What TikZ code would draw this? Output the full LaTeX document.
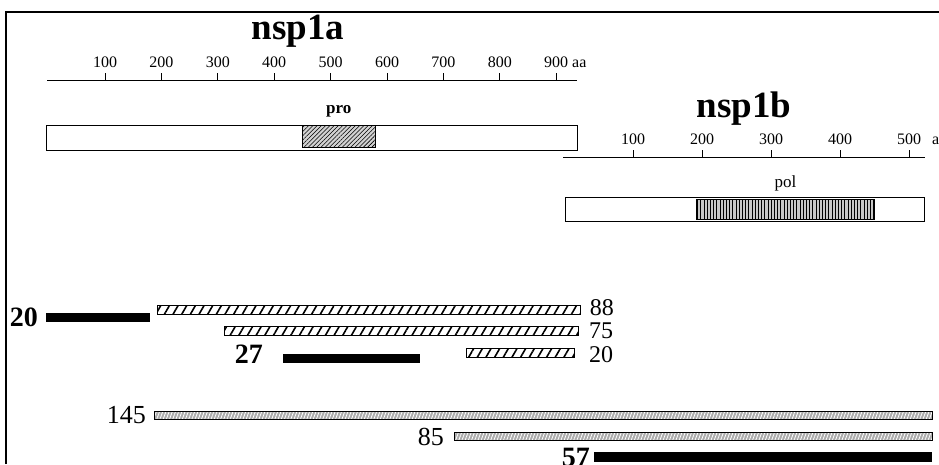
\documentclass[tikz,border=0pt]{standalone}
\usepackage{fontspec}
\setmainfont{Liberation Serif}
\usetikzlibrary{positioning,patterns.meta}

\begin{document}
\begin{tikzpicture}[x=1pt,y=-1pt,
    title/.style={font=\fontsize{37}{37}\selectfont\bfseries,inner sep=0pt},
    scalelab/.style={font=\fontsize{16}{16}\selectfont,inner sep=0pt,anchor=base},
    domlab/.style={font=\fontsize{17}{17}\selectfont,inner sep=0pt},
    numlab/.style={font=\fontsize{24}{24}\selectfont,inner sep=0pt},
    boldlab/.style={font=\fontsize{28}{28}\selectfont\bfseries,inner sep=0pt},
    orf/.style={draw,line width=1pt,fill=white,anchor=west,minimum height=25pt,inner sep=0pt},
    prodom/.style={draw,line width=0.8pt,anchor=west,minimum height=22pt,inner sep=0pt,
      preaction={fill=gray!35},pattern={Lines[angle=45,distance=3pt,line width=0.6pt]}},
    poldom/.style={draw,line width=0.8pt,anchor=west,minimum height=20pt,inner sep=0pt,
      preaction={fill=gray!45},pattern={Lines[angle=90,distance=3.2pt,line width=0.8pt]}},
    solid bar/.style={fill=black,anchor=west,minimum height=9pt,inner sep=0pt},
    hatchbar/.style={draw,line width=0.8pt,anchor=west,minimum height=9pt,inner sep=0pt,
      pattern={Lines[angle=60,distance=7.5pt,line width=1.6pt]}},
    wavebar/.style={draw,line width=0.9pt,anchor=west,minimum height=8pt,inner sep=0pt,
      preaction={fill=gray!65},pattern={Lines[angle=70,distance=3pt,line width=0.8pt]},
      pattern color=white}]
\useasboundingbox (0,0) rectangle (939,464);
\clip (0,0) rectangle (939,464);
% frame
\draw[line width=1.4pt] (6,464) -- (6,12) -- (939,12);

% nsp1a
\node[title] (nspa) at (298,31) {nsp1a};
\draw[line width=0.9pt] (47,80) -- (577,80);
\foreach \i in {1,...,9}
  \draw[line width=0.9pt] (48.6+56.4*\i,73) -- (48.6+56.4*\i,81)
    node[scalelab,at={(48.6+56.4*\i,67)}] {\i00};
\node[scalelab,anchor=base west] (aa) at (572,67) {aa};
\node[orf,minimum width=531pt] (orfa) at (46,137.5) {};
\node[prodom,minimum width=73pt] (pro) at (302,136) {};
\node[domlab,font=\fontsize{17}{17}\selectfont\bfseries,above=7pt of pro] {pro};

% nsp1b
\node[title] (nspb) at (744,109) {nsp1b};
\draw[line width=0.9pt] (563,157) -- (925,157);
\foreach \i in {1,...,5}
  \draw[line width=0.9pt] (564+69*\i,150) -- (564+69*\i,158)
    node[scalelab,at={(564+69*\i,144)}] {\i00};
\node[scalelab,anchor=base west] (aab) at (932,144) {aa};
\node[orf,minimum width=359pt,minimum height=24pt] (orfb) at (565,209) {};
\node[poldom,minimum width=178pt] (pol) at (696,209) {};
\node[domlab,above=7pt of pol] {pol};

% clones
\node[solid bar,minimum width=104pt] (c20a) at (46,317) {};
\node[boldlab,left=8pt of c20a] {20};
\node[hatchbar,minimum width=423pt] (c88) at (157,309.5) {};
\node[numlab,right=8pt of c88,yshift=2pt] {88};
\node[hatchbar,minimum width=354pt] (c75) at (224,331) {};
\node[numlab,right=10pt of c75] {75};
\node[solid bar,minimum width=137pt] (c27) at (283,358) {};
\node[boldlab,left=20pt of c27,yshift=4pt] {27};
\node[hatchbar,minimum width=108pt] (c20b) at (466,353) {};
\node[numlab,right=14pt of c20b,yshift=-2pt] {20};
\node[wavebar,minimum width=778pt] (c145) at (154,415) {};
\node[numlab,font=\fontsize{26}{26}\selectfont,left=8pt of c145] {145};
\node[wavebar,minimum width=478pt] (c85) at (454,436) {};
\node[numlab,font=\fontsize{26}{26}\selectfont,left=10pt of c85,yshift=-1pt] {85};
\node[solid bar,minimum width=338pt,minimum height=10pt] (c57) at (594,457) {};
\node[boldlab,left=4pt of c57] {57};
\end{tikzpicture}
\end{document}
